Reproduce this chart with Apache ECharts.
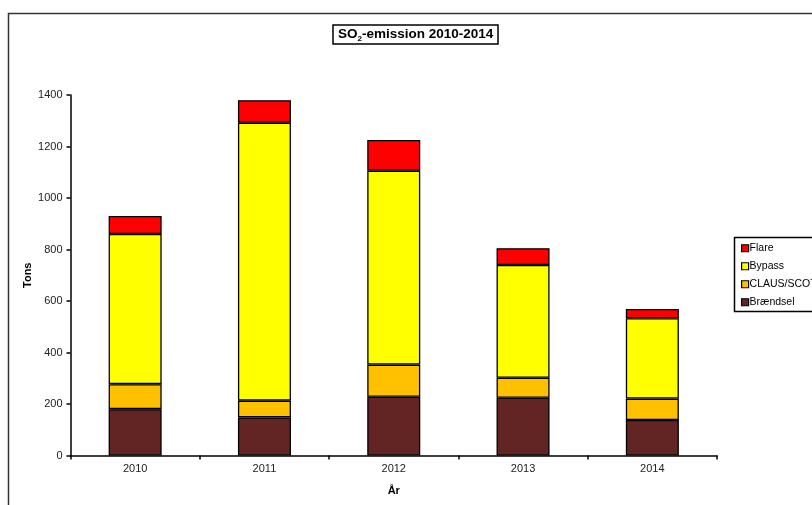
<!DOCTYPE html>
<html>
<head>
<meta charset="utf-8">
<script src="https://cdn.jsdelivr.net/npm/echarts@6/dist/echarts.min.js"></script>
<style>
  html, body { margin: 0; padding: 0; background: #fff; }
  #chart { width: 812px; height: 505px; }
</style>
</head>
<body>
<div id="chart"></div>
<script>
// 年份
const years = ['2010', '2011', '2012', '2013', '2014']
// 各来源排放量 (吨)
const braendsel = [180, 148, 228, 224, 138]
const clausScot = [97, 65, 125, 78, 83]
const bypass = [583, 1079, 753, 438, 312]
const flare = [70, 88, 119, 65, 36]
const yTicks = [0, 200, 400, 600, 800, 1000, 1200, 1400]

const font = 'Liberation Sans, Arial, sans-serif'

const barSeries = (name, data, color) => ({
  name,
  type: 'bar',
  stack: 'total',
  data,
  barWidth: '41%',
  itemStyle: { color, borderColor: '#000', borderWidth: 1.3 },
  emphasis: { disabled: true }
})

const chart = echarts.init(document.getElementById('chart'))
chart.setOption({
  animation: false,
  backgroundColor: '#fff',
  textStyle: { fontFamily: font },
  graphic: [
    // 外框
    { type: 'rect', shape: { x: 8.5, y: 13.5, width: 900, height: 600 }, style: { fill: 'none', stroke: '#333', lineWidth: 1.5 } },
    // 图例框
    { type: 'rect', shape: { x: 734.5, y: 237.5, width: 100, height: 74 }, style: { fill: '#fff', stroke: '#000', lineWidth: 1.5 }, z: 1 }
  ],
  title: {
    text: '{a|SO}{s|2}{a|-emission 2010-2014}',
    left: 333,
    top: 24,
    padding: [2, 5, 1, 5],
    borderColor: '#000',
    borderWidth: 1.5,
    textStyle: {
      rich: {
        a: { fontSize: 13.5, fontWeight: 'bold', color: '#000', fontFamily: font, lineHeight: 16 },
        s: { fontSize: 8, fontWeight: 'bold', color: '#000', fontFamily: font, verticalAlign: 'bottom', lineHeight: 8, padding: [0, 0, -1, 0] }
      }
    }
  },
  legend: {
    orient: 'vertical',
    left: 736,
    top: 237,
    z: 5,
    itemWidth: 7,
    itemHeight: 7,
    itemGap: 5.5,
    icon: 'rect',
    selectedMode: false,
    data: ['Flare', 'Bypass', 'CLAUS/SCOT', 'Brændsel'],
    itemStyle: { borderColor: '#000', borderWidth: 1.2 },
    textStyle: { fontSize: 10.5, color: '#000', padding: [0, 0, 0, -4], fontFamily: font, lineHeight: 12.5 }
  },
  grid: { left: 70.5, right: 95, top: 95, bottom: 49.5, containLabel: false },
  xAxis: {
    type: 'category',
    data: years,
    name: 'År',
    nameLocation: 'middle',
    nameGap: 30,
    nameTextStyle: { fontSize: 11, fontWeight: 'bold', color: '#000' },
    axisLine: { lineStyle: { color: '#000', width: 1.5 } },
    axisTick: { show: true, alignWithLabel: false, length: 4, lineStyle: { color: '#000', width: 1.5 } },
    axisLabel: { fontSize: 11, color: '#222', margin: 8 }
  },
  yAxis: {
    type: 'value',
    min: 0,
    max: yTicks[yTicks.length - 1],
    interval: 200,
    name: 'Tons',
    nameLocation: 'middle',
    nameGap: 37,
    nameMoveOverlap: false,
    nameRotate: 90,
    nameTextStyle: { fontSize: 11, fontWeight: 'bold', color: '#000' },
    splitLine: { show: false },
    axisLine: { show: true, lineStyle: { color: '#000', width: 1.5 } },
    axisTick: { show: true, length: 4, lineStyle: { color: '#000', width: 1.5 } },
    axisLabel: { fontSize: 11, color: '#222', margin: 8, formatter: (v) => String(v) }
  },
  series: [
    barSeries('Brændsel', braendsel, '#632523'),
    barSeries('CLAUS/SCOT', clausScot, '#FFC000'),
    barSeries('Bypass', bypass, '#FFFF00'),
    barSeries('Flare', flare, '#FF0000')
  ]
})
</script>
</body>
</html>
